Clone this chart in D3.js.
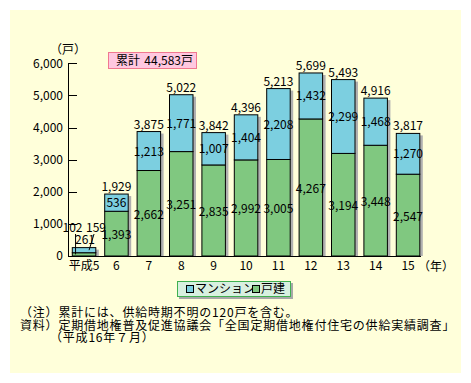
<!DOCTYPE html>
<meta charset="utf-8">
<style>
body { margin: 0; background: #fff; }
svg text { font-family: "Noto Sans CJK JP", sans-serif; font-size: 12px; fill: #000; }
.axis path, .axis line { stroke: #000; shape-rendering: crispEdges; }
</style>
<body>
<script src="https://d3js.org/d3.v7.min.js"></script>
<script>

// data
var years = ["平成5", "6", "7", "8", "9", "10", "11", "12", "13", "14", "15"];
var detached = [102, 1393, 2662, 3251, 2835, 2992, 3005, 4267, 3194, 3448, 2547];   // 戸建
var mansion  = [159, 536, 1213, 1771, 1007, 1404, 2208, 1432, 2299, 1468, 1270];    // マンション
var yTicks = [0, 1000, 2000, 3000, 4000, 5000, 6000];
var notes = [
  "（注）累計には、供給時期不明の120戸を含む。",
  "資料）定期借地権普及促進協議会「全国定期借地権付住宅の供給実績調査」",
  "（平成16年７月）"
];

var W = 471, H = 383;
var colMansion = "#7ccfe0", colDetached = "#80c880";

var svg = d3.select("body").append("svg")
    .attr("width", W)
    .attr("height", H);

// panel
svg.append("rect")
    .attr("x", 10).attr("y", 10)
    .attr("width", 451).attr("height", 363)
    .attr("fill", "#ffffda");

var y = d3.scaleLinear().domain([0, 6000]).range([256, 63.3]);
var x = d3.scaleBand().domain(years).range([68, 424.4]);

var barOff = 4.3, barW = 23.5;

var data = years.map(function(d, i) {
  return {year: d, det: detached[i], man: mansion[i], tot: detached[i] + mansion[i]};
});

// shadows
svg.selectAll(".shadow").data(data).enter().append("rect")
    .attr("class", "shadow")
    .attr("x", function(d) { return x(d.year) + barOff + barW; })
    .attr("y", function(d) { return y(d.tot) + 2; })
    .attr("width", 3)
    .attr("height", function(d) { return y(0) - y(d.tot) - 2; })
    .attr("fill", "#b0b0b0");

// green (戸建)
svg.selectAll(".det").data(data).enter().append("rect")
    .attr("class", "det")
    .attr("x", function(d) { return x(d.year) + barOff; })
    .attr("y", function(d) { return y(d.det); })
    .attr("width", barW)
    .attr("height", function(d) { return y(0) - y(d.det); })
    .attr("fill", colDetached)
    .attr("stroke", "#000");

// blue (マンション)
svg.selectAll(".man").data(data).enter().append("rect")
    .attr("class", "man")
    .attr("x", function(d) { return x(d.year) + barOff; })
    .attr("y", function(d) { return y(d.tot); })
    .attr("width", barW)
    .attr("height", function(d) { return y(d.det) - y(d.tot); })
    .attr("fill", colMansion)
    .attr("stroke", "#000");

var fmt = d3.format(",");
function cx(d) { return x(d.year) + barOff + barW / 2; }

// labels for big bars
var big = data.slice(1);
svg.selectAll(".totl").data(big).enter().append("text")
    .attr("x", cx)
    .attr("y", function(d) { return y(d.tot) - 3; })
    .attr("text-anchor", "middle")
    .text(function(d) { return fmt(d.tot); });

svg.selectAll(".manl").data(big).enter().append("text")
    .attr("x", cx)
    .attr("y", function(d) { return (y(d.tot) + y(d.det)) / 2 - 1; })
    .attr("dominant-baseline", "central")
    .attr("text-anchor", "middle")
    .text(function(d) { return fmt(d.man); });

svg.selectAll(".detl").data(big).enter().append("text")
    .attr("x", cx)
    .attr("y", function(d) { return (y(d.det) + y(0)) / 2; })
    .attr("dominant-baseline", "central")
    .attr("text-anchor", "middle")
    .text(function(d) { return fmt(d.det); });

// first bar: small values with leader lines
var h5 = data[0];
svg.append("text").attr("x", cx(h5) - 11.5).attr("y", 231.5).attr("font-size", 11.5).attr("text-anchor", "middle").text(fmt(h5.det));
svg.append("text").attr("x", cx(h5) + 12).attr("y", 231.5).attr("font-size", 11.5).attr("text-anchor", "middle").text(fmt(h5.man));
svg.append("text").attr("x", cx(h5) + 1).attr("y", 243.5).attr("text-anchor", "middle").text(fmt(h5.tot));
svg.append("line")
    .attr("x1", cx(h5) - 8.5).attr("y1", 234)
    .attr("x2", cx(h5) - 8.5).attr("y2", (y(h5.det) + y(0)) / 2)
    .attr("stroke", "#000");
svg.append("line")
    .attr("x1", cx(h5) + 10).attr("y1", 234)
    .attr("x2", cx(h5) + 5).attr("y2", (y(h5.tot) + y(h5.det)) / 2)
    .attr("stroke", "#000");

// axes
svg.append("g")
    .attr("class", "axis")
    .attr("transform", "translate(68,0)")
    .call(d3.axisLeft(y).tickValues(yTicks).tickSize(-9).tickSizeOuter(0).tickPadding(5).tickFormat(fmt))
    .call(function(g) { g.selectAll("text").attr("font-size", 12).attr("font-family", null); });

svg.append("g")
    .attr("class", "axis")
    .attr("transform", "translate(0,256)")
    .call(d3.axisBottom(x).tickSize(0).tickPadding(5))
    .call(function(g) {
      g.selectAll(".tick").attr("transform", function(d) { return "translate(" + (x(d) + barOff + barW / 2) + ",0)"; });
      g.selectAll("text").attr("font-size", 12).attr("font-family", null);
      g.select(".domain").attr("d", "M68,0.5H421");
    });

svg.append("text").attr("x", 436).attr("y", 271).attr("text-anchor", "middle").text("（年）");
svg.append("text").attr("x", 68).attr("y", 54).attr("text-anchor", "middle").attr("font-size", 11).text("（戸）");

// total box
svg.append("rect")
    .attr("x", 108.5).attr("y", 52.5).attr("width", 88).attr("height", 16)
    .attr("fill", "#ffc8e0").attr("stroke", "#f07890");
svg.append("text").attr("x", 116).attr("y", 65).text("累計");
svg.append("text").attr("x", 193).attr("y", 65).attr("text-anchor", "end").text("44,583戸");

// legend
var lg = svg.append("g").attr("transform", "translate(177,281)");
lg.append("rect").attr("x", 2).attr("y", 2).attr("width", 114).attr("height", 16).attr("fill", "#a8a8a8");
lg.append("rect").attr("x", 0.5).attr("y", 0.5).attr("width", 113).attr("height", 15)
    .attr("fill", "#d8f0e0").attr("stroke", "#40b050");
var legItems = [{name: "マンション", col: colMansion, x: 9}, {name: "戸建", col: colDetached, x: 75}];
legItems.forEach(function(it) {
  lg.append("rect").attr("x", it.x + 0.5).attr("y", 4.5).attr("width", 7).attr("height", 7)
      .attr("fill", it.col).attr("stroke", "#000");
  lg.append("text").attr("x", it.x + 9).attr("y", 12).attr("font-size", 11).text(it.name);
});

// notes
svg.selectAll(".note").data(notes).enter().append("text")
    .attr("x", function(d, i) { return i == 2 ? 50 : 20; })
    .attr("y", function(d, i) { return 317 + i * 12.5; })
    .attr("font-size", 11)
    .attr("letter-spacing", 0.8)
    .text(function(d) { return d; });

</script>
</body>
